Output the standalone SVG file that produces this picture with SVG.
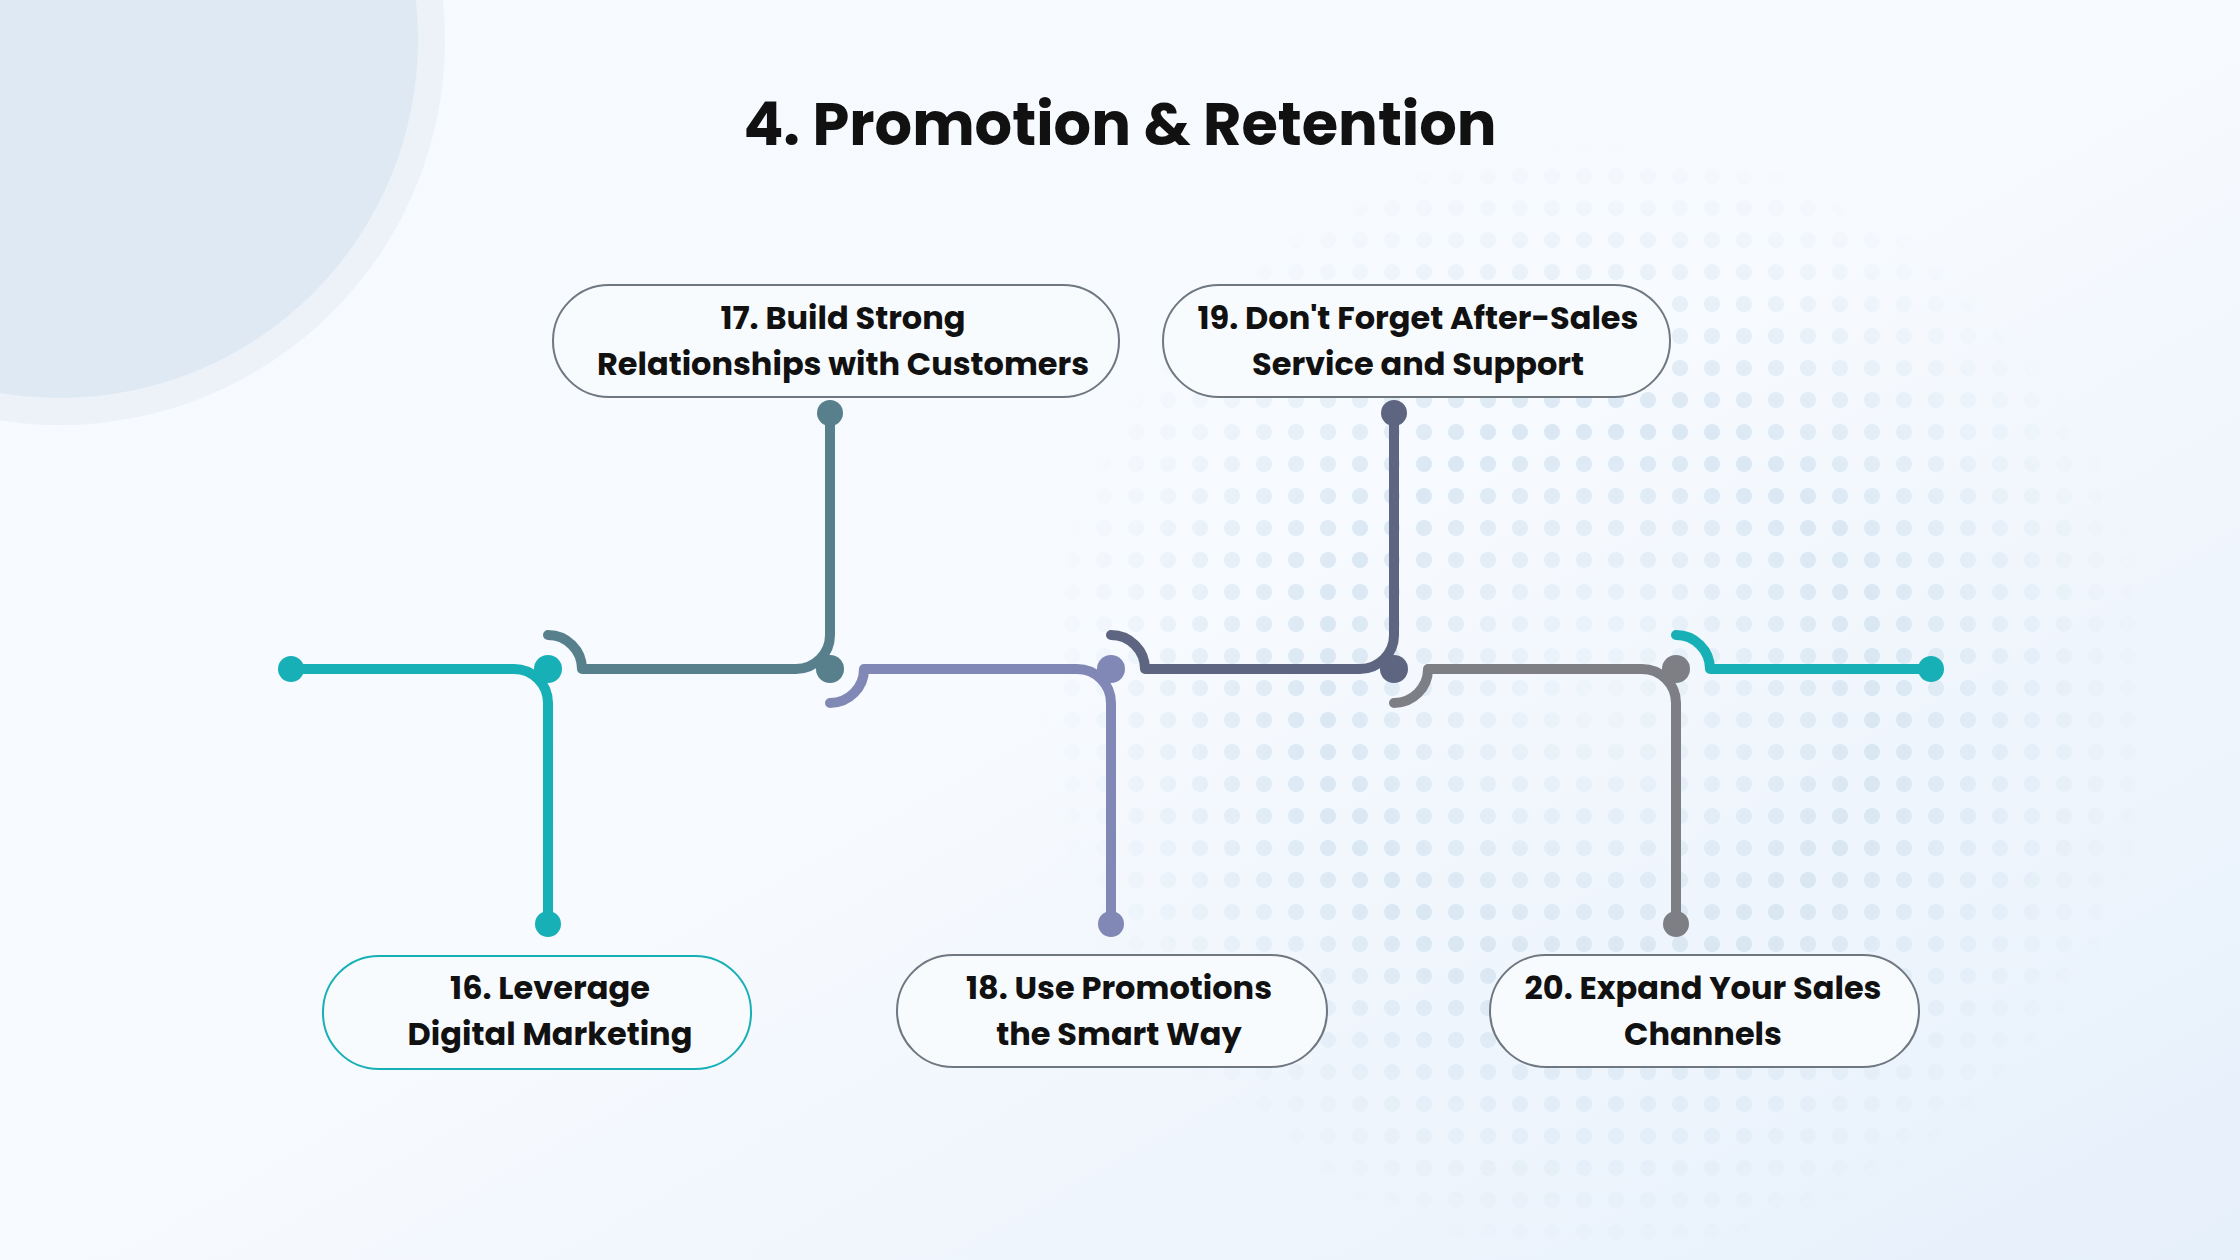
<svg xmlns="http://www.w3.org/2000/svg" width="2240" height="1260" viewBox="0 0 2240 1260">
<defs>
<linearGradient id="bg" x1="0" y1="0" x2="1" y2="1">
<stop offset="0" stop-color="#f6f9fd"/><stop offset="0.5" stop-color="#f7fafe"/><stop offset="1" stop-color="#e6f0fb"/>
</linearGradient>
<pattern id="dots" width="32" height="32" patternUnits="userSpaceOnUse">
<circle cx="16" cy="16" r="8" fill="#d3e3f0"/>
</pattern>
<radialGradient id="fade" cx="0.5" cy="0.5" r="0.5">
<stop offset="0" stop-color="#fff" stop-opacity="0.1"/><stop offset="0.5" stop-color="#fff" stop-opacity="0.8"/><stop offset="1" stop-color="#fff" stop-opacity="0"/>
</radialGradient>
<mask id="m"><circle cx="1600" cy="700" r="560" fill="url(#fade)"/></mask>
<style>
.ln{fill:none;stroke-width:10;stroke-linecap:round;stroke-linejoin:round}
.box{fill:#f8fbfe;stroke-width:2}
.t{font-family:Poppins,"Open Sans","Liberation Sans",sans-serif;font-weight:700;font-size:32px;fill:#111;text-anchor:middle}
</style>
</defs>
<rect width="2240" height="1260" fill="url(#bg)"/>
<circle cx="60" cy="40" r="385" fill="#ecf2f8"/>
<circle cx="60" cy="40" r="358" fill="#dfe9f3"/>
<rect x="1000" y="100" width="1240" height="1160" fill="url(#dots)" mask="url(#m)"/>
<text x="1120" y="145" font-family="Poppins,'Open Sans','Liberation Sans',sans-serif" font-weight="700" font-size="59" fill="#111" text-anchor="middle">4. Promotion &amp; Retention</text>
<g id="connectors">
<path class="ln" stroke="#16b0b6" d="M291 669 H514 A34 34 0 0 1 548 703 V924"/>
<path class="ln" stroke="#577f8c" d="M548 635 A34 34 0 0 1 582 669 H796 A34 34 0 0 0 830 635 V413"/>
<path class="ln" stroke="#8288b5" d="M830 703 A34 34 0 0 0 864 669 H1077 A34 34 0 0 1 1111 703 V924"/>
<path class="ln" stroke="#5e6580" d="M1111 635 A34 34 0 0 1 1145 669 H1360 A34 34 0 0 0 1394 635 V413"/>
<path class="ln" stroke="#7d7f85" d="M1394 703 A34 34 0 0 0 1428 669 H1642 A34 34 0 0 1 1676 703 V924"/>
<path class="ln" stroke="#16b0b6" d="M1676 635 A34 34 0 0 1 1710 669 H1931"/>
<circle cx="291" cy="669" r="13" fill="#16b0b6"/>
<circle cx="1931" cy="669" r="13" fill="#16b0b6"/>
<circle cx="548" cy="669" r="14" fill="#16b0b6"/>
<circle cx="830" cy="669" r="14" fill="#577f8c"/>
<circle cx="1111" cy="669" r="14" fill="#8288b5"/>
<circle cx="1394" cy="669" r="14" fill="#5e6580"/>
<circle cx="1676" cy="669" r="14" fill="#7d7f85"/>
<circle cx="548" cy="924" r="13" fill="#16b0b6"/>
<circle cx="830" cy="413" r="13" fill="#577f8c"/>
<circle cx="1111" cy="924" r="13" fill="#8288b5"/>
<circle cx="1394" cy="413" r="13" fill="#5e6580"/>
<circle cx="1676" cy="924" r="13" fill="#7d7f85"/>
</g>
<g id="n16"><rect class="box" stroke="#16b0b6" x="323" y="956" width="428" height="113" rx="56"/>
<text class="t" x="550" y="999">16. Leverage</text><text class="t" x="550" y="1045">Digital Marketing</text></g>
<g id="n17"><rect class="box" stroke="#6f7780" x="553" y="285" width="566" height="112" rx="56"/>
<text class="t" x="843" y="329">17. Build Strong</text><text class="t" x="843" y="375">Relationships with Customers</text></g>
<g id="n18"><rect class="box" stroke="#6f7780" x="897" y="955" width="430" height="112" rx="56"/>
<text class="t" x="1119" y="999">18. Use Promotions</text><text class="t" x="1119" y="1045">the Smart Way</text></g>
<g id="n19"><rect class="box" stroke="#6f7780" x="1163" y="285" width="507" height="112" rx="56"/>
<text class="t" x="1418" y="329">19. Don't Forget After-Sales</text><text class="t" x="1418" y="375">Service and Support</text></g>
<g id="n20"><rect class="box" stroke="#6f7780" x="1490" y="955" width="429" height="112" rx="56"/>
<text class="t" x="1703" y="999">20. Expand Your Sales</text><text class="t" x="1703" y="1045">Channels</text></g>
</svg>
